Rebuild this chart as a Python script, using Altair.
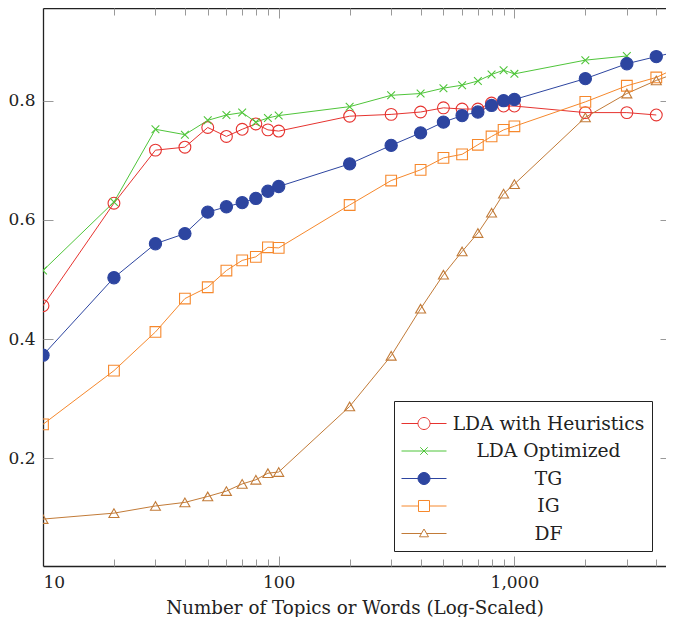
import altair as alt
import pandas as pd

series_names = ["LDA with Heuristics", "LDA Optimized", "TG", "IG", "DF"]
x_values = [10, 20, 30, 40, 50, 60, 70, 80, 90, 100, 200, 300, 400, 500,
            600, 700, 800, 900, 1000, 2000, 3000, 4000, 5000]

lda_heuristics = [0.456, 0.628, 0.717, 0.722, 0.755, 0.740, 0.752, 0.761, 0.751, 0.749,
                  0.774, 0.777, 0.781, 0.788, 0.786, 0.786, 0.796, 0.791, 0.791,
                  0.780, 0.780, 0.776]
lda_optimized = [0.515, 0.630, 0.752, 0.743, 0.767, 0.776, 0.780, 0.764, 0.771, 0.775,
                 0.790, 0.809, 0.812, 0.821, 0.826, 0.833, 0.844, 0.851, 0.845,
                 0.868, 0.875]
tg = [0.373, 0.503, 0.560, 0.577, 0.613, 0.622, 0.629, 0.636, 0.648, 0.656,
      0.694, 0.725, 0.746, 0.764, 0.775, 0.781, 0.792, 0.800, 0.802,
      0.837, 0.862, 0.874, 0.883]
ig = [0.257, 0.347, 0.412, 0.468, 0.487, 0.515, 0.532, 0.538, 0.554, 0.553,
      0.625, 0.666, 0.684, 0.704, 0.710, 0.726, 0.740, 0.751, 0.757,
      0.798, 0.825, 0.839, 0.857]
df_vals = [0.098, 0.108, 0.120, 0.126, 0.136, 0.145, 0.157, 0.164, 0.175, 0.177,
           0.287, 0.372, 0.451, 0.508, 0.547, 0.578, 0.612, 0.644, 0.660,
           0.772, 0.812, 0.834, 0.848]

x_major = [10, 100, 1000]
x_minor = [20, 30, 40, 50, 60, 70, 80, 90, 200, 300, 400, 500, 600, 700, 800, 900,
           2000, 3000, 4000]
y_ticks = [0.2, 0.4, 0.6, 0.8]

colors = ["#e6332f", "#4fc53a", "#2d45a0", "#f6882c", "#c27b38"]
marker_shapes = ["circle", "M-1,-1L1,1M-1,1L1,-1", "circle", "square", "triangle-up"]
marker_fills = ["transparent", "transparent", "#2d45a0", "transparent", "transparent"]
marker_sizes = [140, 60, 150, 115, 100]
legend_paths = [
    "M-1,0H0.1M0.9,0H2M0.9,0A0.4,0.4 0 1,1 0.1,0A0.4,0.4 0 1,1 0.9,0Z",
    "M-1,0H2M0.25,-0.25L0.75,0.25M0.25,0.25L0.75,-0.25",
    "M-1,0H0.1M0.9,0H2M0.9,0A0.4,0.4 0 1,1 0.1,0A0.4,0.4 0 1,1 0.9,0Z",
    "M-1,0H0.133M0.867,0H2M0.133,-0.367H0.867V0.367H0.133Z",
    "M-1,0H0.327M0.673,0H2M0.5,-0.3L0.8,0.22L0.2,0.22Z",
]
legend_fills = ["white", "white", "#2d45a0", "white", "white"]

rows = []
for name, vals in zip(series_names, [lda_heuristics, lda_optimized, tg, ig, df_vals]):
    for xv, yv in zip(x_values, vals):
        rows.append({"series": name, "x": xv, "y": yv})
data = pd.DataFrame(rows)

FONT = "DejaVu Serif"
TXT = "#222222"
TICK = "#999999"

xs = alt.Scale(type="log", domain=[10, 4398], nice=False)
ys = alt.Scale(domain=[0.0193, 0.9555], nice=False, zero=False)


def tax(**kw):
    base = dict(grid=False, title=None, labels=False, domain=False, ticks=True,
                tickColor=TICK, tickWidth=1)
    base.update(kw)
    return alt.Axis(**base)


# per-series marker size through conditional values
size_enc = {
    "condition": [
        {"test": f"datum.series === '{n}'", "value": s}
        for n, s in zip(series_names[1:], marker_sizes[1:])
    ],
    "value": marker_sizes[0],
}

base = alt.Chart(data)

lines = base.mark_line(strokeWidth=1, clip=True).encode(
    x=alt.X("x:Q", scale=xs, axis=alt.Axis(
        orient="bottom", values=x_major, format=",", title="Number of Topics or Words (Log-Scaled)",
        ticks=False, tickSize=0, domain=True, domainColor=TXT, domainWidth=1.3,
        labelPadding=8, titlePadding=9, grid=False)),
    y=alt.Y("y:Q", scale=ys, axis=alt.Axis(
        orient="left", values=y_ticks, format=".1f", title=None,
        ticks=False, tickSize=0, domain=True, domainColor=TXT, domainWidth=1.3,
        labelPadding=8, grid=False)),
    color=alt.Color("series:N", scale=alt.Scale(domain=series_names, range=colors), legend=None),
)

points = base.mark_point(strokeWidth=1.1, clip=True, opacity=1).encode(
    x=alt.X("x:Q", scale=xs, axis=tax(orient="bottom", values=x_major, offset=-10, tickSize=10)),
    y=alt.Y("y:Q", scale=ys, axis=tax(orient="left", values=y_ticks, offset=-10, tickSize=10)),
    shape=alt.Shape("series:N", scale=alt.Scale(domain=series_names, range=marker_shapes), legend=None),
    stroke=alt.Stroke("series:N", scale=alt.Scale(domain=series_names, range=colors), legend=None),
    fill=alt.Fill("series:N", scale=alt.Scale(domain=series_names, range=marker_fills), legend=None),
    size=size_enc,
)

leg = alt.Legend(
    title=None, orient="none", legendX=351, legendY=393,
    labelAlign="center", labelOffset=116.5, labelFont=FONT, labelFontSize=18.7, labelColor=TXT,
    labelLimit=0, symbolSize=900, symbolStrokeWidth=1, symbolOpacity=1,
    padding=7, strokeColor=TXT, fillColor="white", rowPadding=1.5,
)

legend_layer = base.mark_point(opacity=0, clip=True).encode(
    x=alt.X("x:Q", scale=xs, axis=tax(orient="bottom", values=x_minor, offset=-7, tickSize=7)),
    y=alt.Y("y:Q", scale=ys, axis=tax(orient="right", values=y_ticks, offset=-6, tickSize=6)),
    shape=alt.Shape("series:N", scale=alt.Scale(domain=series_names, range=legend_paths), legend=leg),
    stroke=alt.Stroke("series:N", scale=alt.Scale(domain=series_names, range=colors), legend=leg),
    fill=alt.Fill("series:N", scale=alt.Scale(domain=series_names, range=legend_fills), legend=leg),
)

top_frame = base.mark_point(opacity=0, clip=True).encode(
    x=alt.X("x:Q", scale=xs, axis=tax(orient="top", values=x_major, ticks=False, tickSize=0,
                                       domain=True, domainColor=TXT, domainWidth=1.3)),
    y=alt.Y("y:Q", scale=ys, axis=None),
)
top_major = base.mark_point(opacity=0, clip=True).encode(
    x=alt.X("x:Q", scale=xs, axis=tax(orient="top", values=x_major, offset=-10, tickSize=10)),
    y=alt.Y("y:Q", scale=ys, axis=None),
)
top_minor = base.mark_point(opacity=0, clip=True).encode(
    x=alt.X("x:Q", scale=xs, axis=tax(orient="top", values=x_minor, offset=-7, tickSize=7)),
    y=alt.Y("y:Q", scale=ys, axis=None),
)

chart = alt.layer(lines, points, legend_layer, top_frame, top_major, top_minor).resolve_scale(
    shape="independent", fill="independent", stroke="independent", color="independent"
).resolve_axis(x="independent", y="independent").properties(
    width=623, height=558,
    autosize=alt.AutoSizeParams(type="none"),
    padding={"left": 35, "top": 0, "right": 0, "bottom": 51},
).configure_view(stroke=None).configure_axis(
    labelFont=FONT, labelFontSize=17, labelColor=TXT,
    titleFont=FONT, titleFontSize=18.3, titleFontWeight="normal", titleColor=TXT,
).configure_legend(strokeWidth=1)

chart.save("out.html", embed_options={"renderer": "svg", "actions": False})
